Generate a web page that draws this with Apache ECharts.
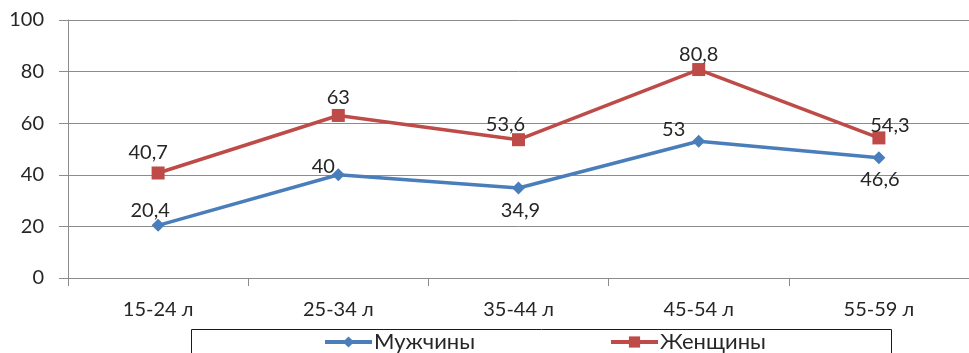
<!DOCTYPE html>
<html style="height: 100%">
    <head>
        <meta charset="utf-8">
    </head>
    <body style="height: 100%; margin: 0; background: #fff">
        <div id="container" style="width: 969px; height: 353px"></div>

        <script type="text/javascript" src="https://cdn.jsdelivr.net/npm/echarts@6/dist/echarts.min.js"></script>
        <script type="text/javascript">
var categories = ['15-24 л', '25-34 л', '35-44 л', '45-54 л', '55-59 л'];
var men = [20.4, 40, 34.9, 53, 46.6];
var women = [40.7, 63, 53.6, 80.8, 54.3];

// label placement, copied from the original chart (Excel nudged some of them)
var menLabelPos = ['top', 'top', 'bottom', 'top', 'bottom'];
var menLabelOffset = [[-8, 2], [-15, 8], [2, 6], [-25, 5], [1, 5]];
var womenLabelOffset = [[-10, -4], [0, -1], [-13, 1], [0, 2], [11, 4]];

var dom = document.getElementById("container");
var myChart = echarts.init(dom);
var option;

var FONT = 'Lato, "Open Sans", sans-serif';
var TEXT = '#262626';
var GRID = '#8c8c8c';
var BLUE = '#4a7ebb';
var RED = '#be4b48';

function comma(p) {
    return String(p.value).replace('.', ',');
}

function points(values, pos, offs) {
    return values.map(function (v, i) {
        return { value: v, label: { position: pos[i], offset: offs[i] } };
    });
}

option = {
    animation: false,
    textStyle: { fontFamily: FONT },
    grid: { left: 68, top: 20, width: 910, height: 258 },
    xAxis: {
        type: 'category',
        data: categories,
        boundaryGap: true,
        axisLine: { lineStyle: { color: GRID, width: 1 } },
        axisTick: { show: true, length: 8, lineStyle: { color: GRID } },
        axisLabel: { color: TEXT, fontSize: 20, fontFamily: FONT, margin: 22 }
    },
    yAxis: {
        type: 'value',
        min: 0,
        max: 100,
        interval: 20,
        axisLine: { show: true, lineStyle: { color: GRID } },
        axisTick: { show: true, length: 9, lineStyle: { color: GRID } },
        splitLine: { lineStyle: { color: GRID, width: 1 } },
        axisLabel: { color: TEXT, fontSize: 20, fontFamily: FONT, margin: 24 }
    },
    legend: [
        {
            data: ['Мужчины'],
            left: 323,
            top: 331,
            padding: 0,
            itemWidth: 47,
            itemHeight: 14,
            itemGap: 4,
            lineStyle: { width: 4 },
            textStyle: { color: TEXT, fontSize: 22, fontFamily: FONT, padding: [0, 0, 0, -3] }
        },
        {
            data: ['Женщины'],
            left: 609,
            top: 331,
            padding: 0,
            itemWidth: 47,
            itemHeight: 14,
            lineStyle: { width: 4 },
            textStyle: { color: TEXT, fontSize: 22, fontFamily: FONT, padding: [0, 0, 0, -3] }
        }
    ],
    graphic: [{
        type: 'rect',
        shape: { x: 191.5, y: 329.5, width: 700, height: 40 },
        style: { fill: 'none', stroke: '#1a1a1a', lineWidth: 1 }
    }],
    series: [
        {
            name: 'Мужчины',
            type: 'line',
            data: points(men, menLabelPos, menLabelOffset),
            color: BLUE,
            lineStyle: { width: 3.5, color: BLUE },
            symbol: 'diamond',
            symbolSize: 13,
            itemStyle: { color: BLUE },
            label: {
                show: true,
                distance: 0,
                color: TEXT,
                fontSize: 20,
                fontFamily: FONT,
                formatter: comma
            }
        },
        {
            name: 'Женщины',
            type: 'line',
            data: points(women, ['top', 'top', 'top', 'top', 'top'], womenLabelOffset),
            color: RED,
            lineStyle: { width: 3.5, color: RED },
            symbol: 'rect',
            symbolSize: 13,
            itemStyle: { color: RED },
            label: {
                show: true,
                distance: 0,
                color: TEXT,
                fontSize: 20,
                fontFamily: FONT,
                formatter: comma
            }
        }
    ]
};

myChart.setOption(option);
        </script>
    </body>
</html>
